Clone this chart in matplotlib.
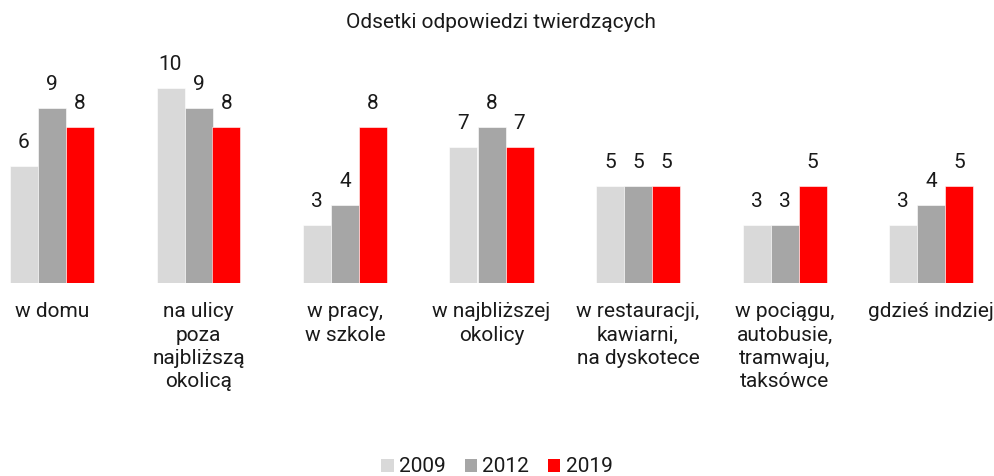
import numpy as np
import matplotlib
matplotlib.use("Agg")
import matplotlib.pyplot as plt
from matplotlib.patches import Patch

plt.rcParams['font.family'] = ['Roboto', 'DejaVu Sans']

categories = ["w domu", "na ulicy\npoza\nnajbliższą\nokolicą", "w pracy,\nw szkole",
              "w najbliższej\nokolicy", "w restauracji,\nkawiarni,\nna dyskotece",
              "w pociągu,\nautobusie,\ntramwaju,\ntaksówce", "gdzieś indziej"]
years = ["2009", "2012", "2019"]
v2009 = [6, 10, 3, 7, 5, 3, 3]
v2012 = [9, 9, 4, 8, 5, 3, 4]
v2019 = [8, 8, 8, 7, 5, 5, 5]
colors = ["#d9d9d9", "#a6a6a6", "#ff0000"]

txt = '#1a1a1a'
fig = plt.figure(figsize=(9.95, 4.76), dpi=100)
# baseline at y=283px, first group centre at x=52px, spacing 146.5px
ax = fig.add_axes([0, (476 - 283) / 476, 1, (283 - 40) / 476])
ax.set_xlim(-52 / 146.5, (995 - 52) / 146.5)
ax.set_ylim(0, (283 - 40) / 19.5)

x = np.arange(len(categories))
w = 28 / 146.5
for k, (vals, c) in enumerate(zip([v2009, v2012, v2019], colors)):
    bars = ax.bar(x + (k - 1) * w, vals, w, color=c, edgecolor='white', linewidth=0.4)
    for b, v in zip(bars, vals):
        ax.annotate(str(v), (b.get_x() + b.get_width() / 2, v), xytext=(0, 10),
                    textcoords='offset points', ha='center', va='bottom',
                    fontsize=15, color=txt)

ax.set_xticks(x)
ax.set_xticklabels(categories, fontsize=15, color=txt, linespacing=1.28, va='top')
ax.tick_params(axis='x', length=0, pad=14)
ax.set_yticks([])
for s in ax.spines.values():
    s.set_visible(False)

fig.text(501 / 995, 1 - 22 / 476, "Odsetki odpowiedzi twierdzących", ha='center', va='center',
         fontsize=15, color=txt)

handles = [Patch(facecolor=c, edgecolor='none') for c in colors]
fig.legend(handles, years, loc='center', bbox_to_anchor=(497 / 995, 1 - 467 / 476), ncol=3,
           frameon=False, fontsize=15, handlelength=0.6, handleheight=0.6,
           handletextpad=0.25, columnspacing=0.9, labelcolor=txt,
           borderpad=0, borderaxespad=0)

fig.savefig("out.png", dpi=100)
